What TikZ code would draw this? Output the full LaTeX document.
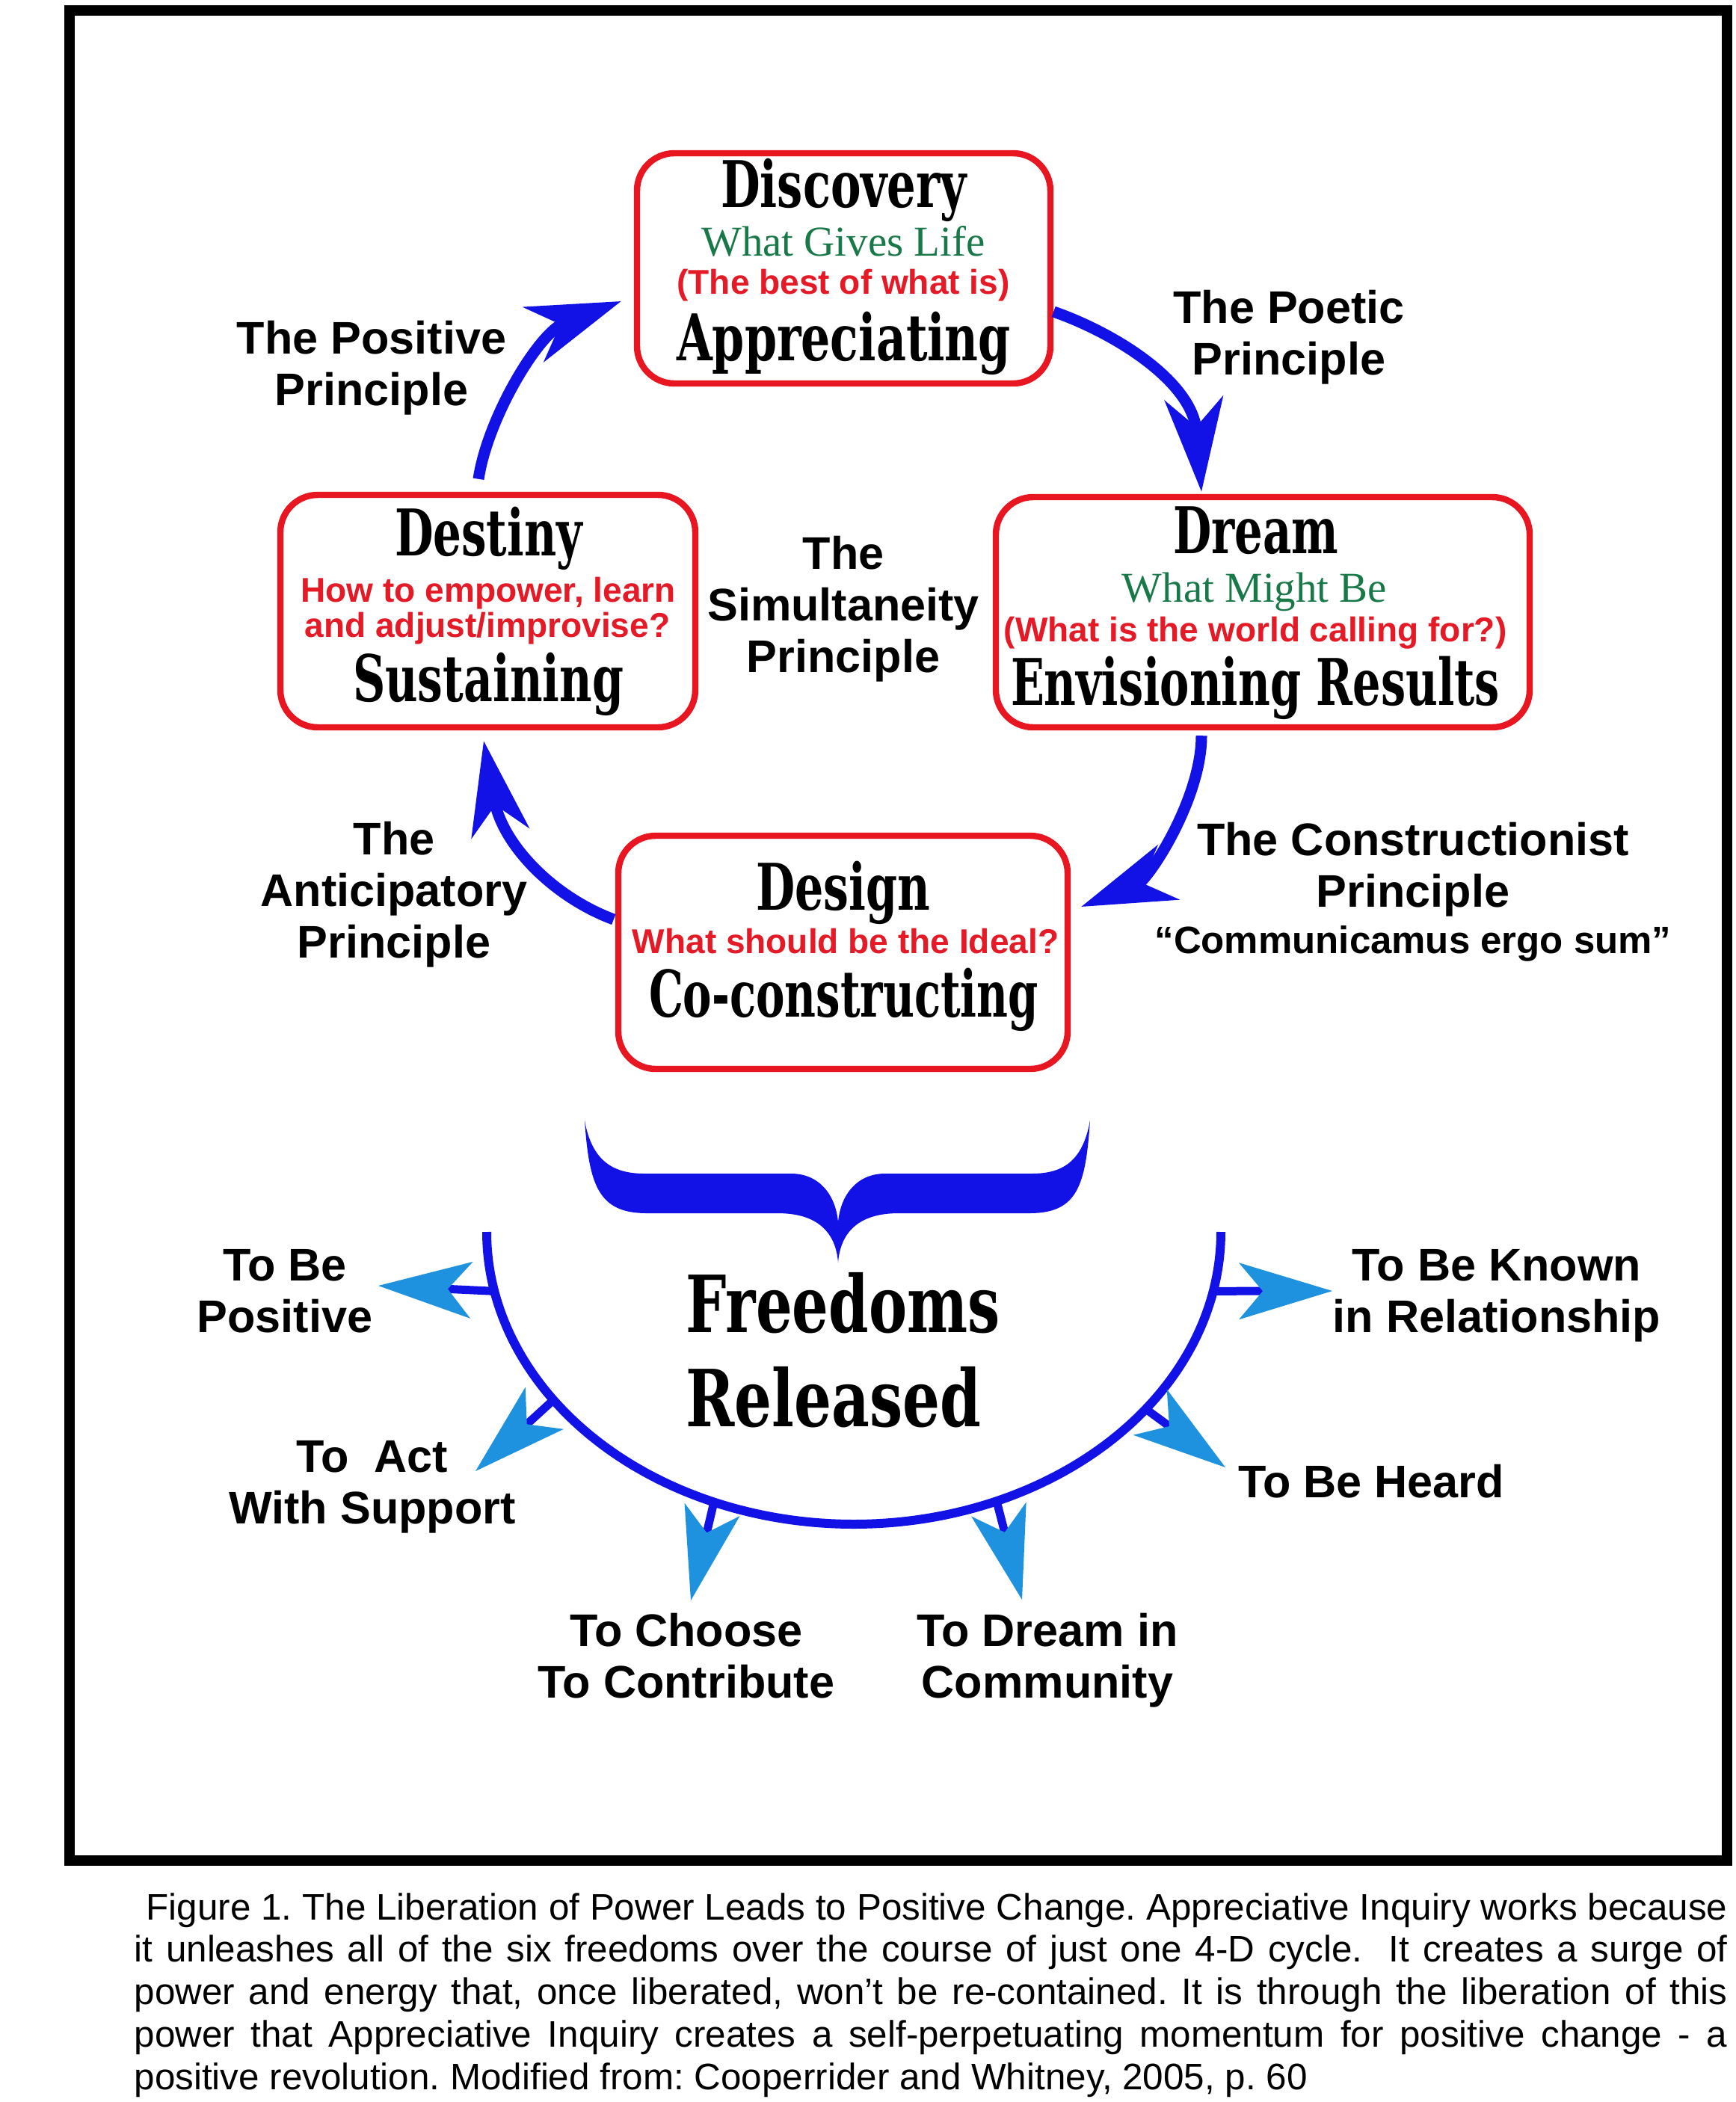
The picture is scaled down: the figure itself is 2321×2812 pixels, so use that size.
\documentclass[tikz,border=0pt]{standalone}
\usepackage{fontspec}
\setmainfont{Liberation Sans}
\newfontfamily\ttlfont{DejaVu Serif}
\newfontfamily\grfont{Liberation Serif}
\usetikzlibrary{arrows.meta,calc}
\definecolor{boxred}{RGB}{232,22,32}
\definecolor{txtred}{RGB}{228,26,38}
\definecolor{txtgreen}{RGB}{24,120,72}
\definecolor{dblue}{RGB}{18,18,230}
\definecolor{lblue}{RGB}{30,146,222}
\newlength\pxu \setlength\pxu{0.1mm}
\newcommand\ttl[2]{\resizebox{#1\pxu}{\height}{\ttlfont\bfseries #2}}
\newcommand\freedom[3]{%
  \coordinate (#3n) at ($(#2)!9.3mm!(#1)$);
  \coordinate (#3b) at ($(#2)!12.5mm!(#1)$);
  \coordinate (#3l) at ($(#3b)!3.8mm!90:(#2)$);
  \coordinate (#3r) at ($(#3b)!3.8mm!-90:(#2)$);
  \draw[stub] (#1) -- (#3n);
  \fill[lblue] (#2) -- (#3l) -- (#3n) -- (#3r) -- cycle;
}
\begin{document}
\begin{tikzpicture}[x=0.1mm,y=-0.1mm,
  stage/.style={draw=boxred, line width=2.4pt, rounded corners=5mm, inner sep=0pt, fill=white},
  ttlnode/.style={anchor=base, inner sep=0pt, font=\fontsize{24.5}{29}\selectfont},
  bignode/.style={anchor=base west, inner sep=0pt, align=left, font=\fontsize{30}{35.6}\selectfont},
  grn/.style={anchor=base, inner sep=0pt, text=txtgreen, font=\grfont\fontsize{16.2}{19}\selectfont},
  rq/.style={anchor=base, inner sep=0pt, text=txtred, font=\bfseries\fontsize{13.1}{14.5}\selectfont},
  lbl/.style={anchor=base, inner sep=0pt, align=center, font=\bfseries\fontsize{17.4}{19.6}\selectfont},
  motto/.style={anchor=base, inner sep=0pt, font=\bfseries\fontsize{14.5}{17}\selectfont},
  cyc/.style={draw=dblue, line width=1.5mm, -{Stealth[length=12.5mm, width=7.8mm, inset=3.8mm]}},
  stub/.style={draw=dblue, line width=1.1mm},
  bowl/.style={draw=dblue, line width=1.2mm},
  frame/.style={draw=black, line width=1.4mm}
]
\useasboundingbox (0,0) rectangle (2321,2812);
\fill[white] (0,0) rectangle (2321,2812);
\draw[frame] (93,14) rectangle (2310,2489);

% stage boxes
\node[stage, minimum width=55.3mm, minimum height=30.8mm] (discovery) at (1128.5,359) {};
\node[stage, minimum width=71.4mm, minimum height=30.8mm] (dream) at (1689,819) {};
\node[stage, minimum width=55.5mm, minimum height=31.1mm] (destiny) at (652.5,817.5) {};
\node[stage, minimum width=60.1mm, minimum height=31.2mm] (design) at (1127.5,1274) {};

% texts in boxes
\node[ttlnode] (discT) at (1128.5,277) {\ttl{329}{Discovery}};
\node[grn] (discG) at (1128,342) {What Gives Life};
\node[rq] (discR) at (1128,393) {(The best of what is)};
\node[ttlnode] (discB) at (1128.5,482) {\ttl{447}{Appreciating}};

\node[ttlnode] (dreamT) at (1680,740) {\ttl{221}{Dream}};
\node[grn] (dreamG) at (1678,805) {What Might Be};
\node[rq] (dreamR) at (1679,858) {(What is the world calling for?)};
\node[ttlnode] (dreamB) at (1679,943) {\ttl{654}{Envisioning Results}};

\node[ttlnode] (destT) at (653.5,743) {\ttl{251}{Destiny}};
\node[rq] (destR1) at (653,805) {How to empower, learn};
\node[rq] (destR2) at (652,852) {and adjust/improvise?};
\node[ttlnode] (destB) at (653,938) {\ttl{362}{Sustaining}};

\node[ttlnode] (desT) at (1127.5,1217) {\ttl{233}{Design}};
\node[rq] (desR) at (1131,1275) {What should be the Ideal?};
\node[ttlnode] (desB) at (1128.5,1360) {\ttl{521}{Co-constructing}};

% cycle arrows
\draw[cyc] ($(destiny.north)+(-12.5,-17)$) .. controls (652,560) and (720,445) .. ($(discovery.west)+(-17,44)$);
\draw[cyc] ($(discovery.east)+(0,58)$) .. controls (1490,445) and (1595,510) .. ($(dream.north)+(-82,-3)$);
\draw[cyc] ($(dream.south)+(-82,7)$) .. controls (1607,1070) and (1535,1178) .. ($(design.east)+(14,-61)$);
\draw[cyc] ($(design.west)+(-2,-44)$) .. controls (740,1200) and (672,1130) .. ($(destiny.south)+(-5.5,14)$);

% principle labels (anchor = baseline of last line)
\node[lbl] (positive) at (497,542) {The Positive\\Principle};
\node[lbl] (poetic) at (1724,501) {The Poetic\\Principle};
\node[lbl] (simult) at (1128,899) {The\\Simultaneity\\Principle};
\node[lbl] (construct) at (1890,1213) {The Constructionist\\Principle};
\node[motto] (mottoN) at (1890,1275) {“Communicamus ergo sum”};
\node[lbl] (anticip) at (527,1281) {The\\Anticipatory\\Principle};

% brace
\fill[dblue] (782,1499)
  .. controls (788,1585) and (800,1623) .. (865,1623)
  -- (1040,1623)
  .. controls (1095,1623) and (1118,1650) .. (1121,1689)
  .. controls (1124,1650) and (1147,1623) .. (1202,1623)
  -- (1377,1623)
  .. controls (1442,1623) and (1452,1585) .. (1458,1499)
  .. controls (1448,1555) and (1420,1570) .. (1380,1570)
  -- (1184,1570)
  .. controls (1145,1570) and (1124,1600) .. (1121,1635)
  .. controls (1118,1600) and (1097,1570) .. (1058,1570)
  -- (862,1570)
  .. controls (822,1570) and (792,1555) .. (782,1499)
  -- cycle;

\node[bignode] (freedoms) at (917,1908) {\ttl{420}{Freedoms}\\\ttl{395}{Released}};

% bowl
\draw[bowl, variable=\t, domain=0:180, samples=120, smooth] plot ({1142+491*cos(\t)},{1648+391*sin(\t)});

% freedom arrows
\coordinate (p1) at ({1142+491*cos(168.3)},{1648+391*sin(168.3)});
\coordinate (t1) at (506,1720);
\coordinate (p2) at ({1142+491*cos(144.9)},{1648+391*sin(144.9)});
\coordinate (t2) at (636,1968);
\coordinate (p3) at ({1142+491*cos(112.4)},{1648+391*sin(112.4)});
\coordinate (t3) at (924,2141);
\coordinate (p4) at ({1142+491*cos(67.1)},{1648+391*sin(67.1)});
\coordinate (t4) at (1367,2140);
\coordinate (p5) at ({1142+491*cos(37.3)},{1648+391*sin(37.3)});
\coordinate (t5) at (1639,1963);
\coordinate (p6) at ({1142+491*cos(11.7)},{1648+391*sin(11.7)});
\coordinate (t6) at (1782,1727);
\freedom{p1}{t1}{fa}
\freedom{p2}{t2}{fb}
\freedom{p3}{t3}{fc}
\freedom{p4}{t4}{fd}
\freedom{p5}{t5}{fe}
\freedom{p6}{t6}{ff}

% freedom labels (anchor = baseline of last line)
\node[lbl] (fpos) at (381,1782) {To Be\\Positive};
\node[lbl] (fact) at (498,2038) {To~ Act\\With Support};
\node[lbl] (fchoose) at (918,2271) {To Choose\\To Contribute};
\node[lbl] (fdream) at (1401,2271) {To Dream in\\Community};
\node[lbl] (fheard) at (1834,2003) {To Be Heard};
\node[lbl] (fknown) at (2002,1782) {To Be Known\\in Relationship};

% caption
\node[anchor=base west, inner sep=0pt] (caption) at (179,2568) {\parbox[t]{213.1mm}{\frenchspacing\fontsize{14.05}{16.2}\selectfont\hspace*{1.6mm}Figure 1. The Liberation of Power Leads to Positive Change. Appreciative Inquiry works because\linebreak
it unleashes all of the six freedoms over the course of just one 4-D cycle.\ \ It creates a surge of\linebreak
power and energy that, once liberated, won’t be re-contained. It is through the liberation of this\linebreak
power that Appreciative Inquiry creates a self-perpetuating momentum for positive change - a\linebreak
positive revolution. Modified from: Cooperrider and Whitney, 2005, p. 60}};
\end{tikzpicture}
\end{document}
